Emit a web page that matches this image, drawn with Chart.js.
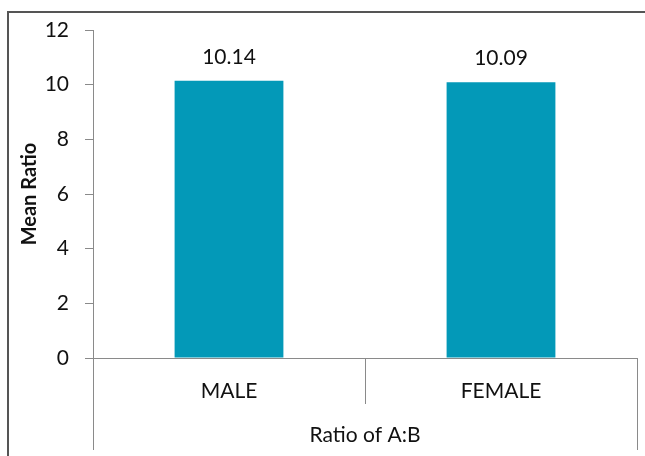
<!DOCTYPE html>
<html>
<head>
<meta charset="utf-8">
<script src="https://cdn.jsdelivr.net/npm/chart.js@4/dist/chart.umd.min.js"></script>
<style>
  html, body { margin: 0; padding: 0; background: #fff; }
  #wrap { width: 645px; height: 456px; position: relative; }
</style>
</head>
<body>
<div id="wrap"><canvas id="cnv"></canvas></div>
<script>
const categories = ['MALE', 'FEMALE'];
const meanRatio = [10.14, 10.09];
const yTicks = [0, 2, 4, 6, 8, 10, 12];
const xTitle = 'Ratio of A:B';
const yTitle = 'Mean Ratio';

const FONT = 'Lato, "Noto Sans", sans-serif';
const AXIS = '#8a8a8a';

// frame, extended category dividers and value labels
const decorations = {
  id: 'decorations',
  beforeDraw(chart) {
    const ctx = chart.ctx;
    ctx.save();
    ctx.strokeStyle = '#555';
    ctx.lineWidth = 2;
    ctx.strokeRect(8, 12, 700, 500);
    ctx.restore();
  },
  afterDraw(chart) {
    const ctx = chart.ctx;
    const x = chart.scales.x;
    const top = chart.chartArea.bottom;
    const n = categories.length;
    const step = (x.right - x.left) / n;
    ctx.save();
    ctx.strokeStyle = AXIS;
    ctx.lineWidth = 1;
    for (let i = 0; i <= n; i++) {
      const px = Math.round(x.left + i * step) + 0.5;
      const end = (i === 0 || i === n) ? 450 : 404;
      ctx.beginPath();
      ctx.moveTo(px, top);
      ctx.lineTo(px, end);
      ctx.stroke();
    }
    ctx.restore();
  },
  afterDatasetsDraw(chart) {
    const ctx = chart.ctx;
    const meta = chart.getDatasetMeta(0);
    ctx.save();
    ctx.fillStyle = '#111';
    ctx.font = '21px ' + FONT;
    ctx.textAlign = 'center';
    ctx.textBaseline = 'middle';
    meta.data.forEach((bar, i) => {
      ctx.fillText(meanRatio[i].toFixed(2), bar.x, bar.y - 24);
    });
    ctx.restore();
  }
};

new Chart(document.getElementById('cnv'), {
  type: 'bar',
  data: {
    labels: categories,
    datasets: [{
      data: meanRatio,
      backgroundColor: '#0399B8',
      borderWidth: 0,
      categoryPercentage: 0.4,
      barPercentage: 1
    }]
  },
  options: {
    responsive: true,
    maintainAspectRatio: false,
    animation: false,
    layout: { padding: { left: 7, right: 8, top: 30, bottom: 0 } },
    plugins: { legend: { display: false }, tooltip: { enabled: false } },
    scales: {
      x: {
        afterFit: s => { s.height = 98; },
        grid: { display: false },
        border: { display: true, color: AXIS, width: 1 },
        ticks: { color: '#111', padding: 13, font: { family: FONT, size: 21 } },
        title: {
          display: true, text: xTitle, color: '#111',
          font: { family: FONT, size: 21 }, padding: { top: 0, bottom: 8 }
        }
      },
      y: {
        min: 0, max: 12,
        afterFit: s => { s.width = 86; },
        afterBuildTicks: s => { s.ticks = yTicks.map(v => ({ value: v })); },
        grid: { drawOnChartArea: false, drawTicks: true, tickLength: 8, color: AXIS },
        border: { display: true, color: AXIS, width: 1 },
        ticks: { color: '#111', padding: 16, font: { family: FONT, size: 21 } },
        title: {
          display: true, text: yTitle, color: '#111',
          font: { family: FONT, size: 20, weight: 'bold' }, padding: { top: 11, bottom: 0 }
        }
      }
    }
  },
  plugins: [decorations]
});
</script>
</body>
</html>
